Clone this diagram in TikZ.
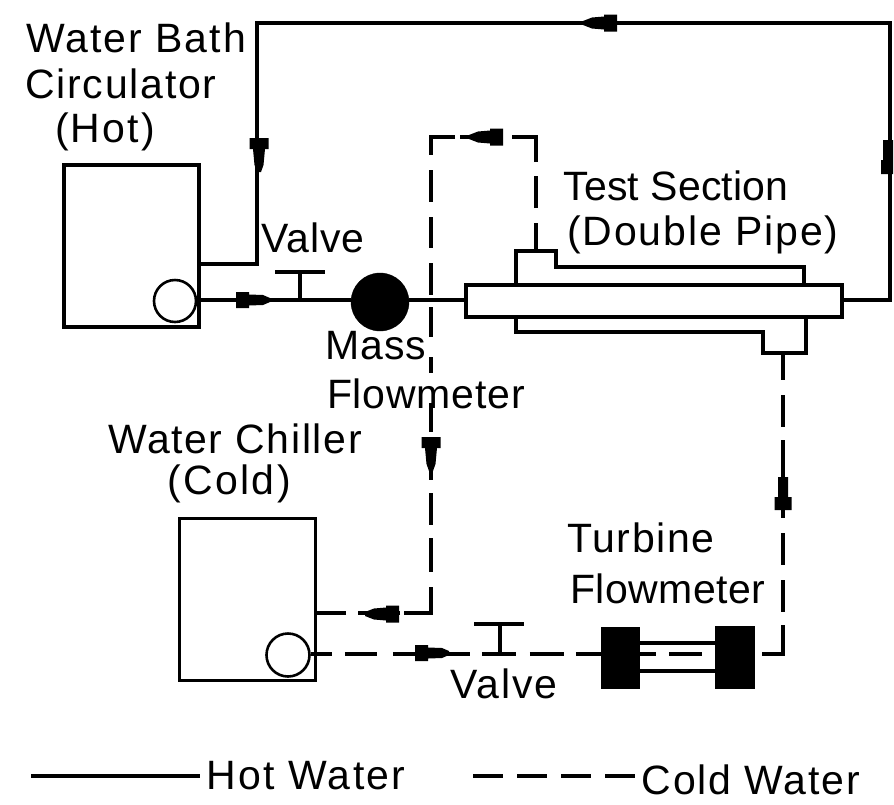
\documentclass[tikz,border=0pt]{standalone}
\usepackage{fontspec}
\setmainfont{Liberation Sans}
\usetikzlibrary{calc}
\tikzset{
  x=1pt,y=-1pt,
  pipe/.style={line width=3.4pt,line join=miter,black},
  lbl/.style={inner sep=0pt,align=center,font=\fontsize{41}{49}\selectfont,text=black},
  solidm/.style={circle,fill=black,draw=black,inner sep=0pt},
  pumpc/.style={circle,draw=black,line width=2.6pt,fill=white,inner sep=0pt},
  tank/.style={rectangle,draw=black,line width=3.4pt,inner sep=0pt,fill=white},
  tblock/.style={rectangle,fill=black,inner sep=0pt},
}
\newcommand{\LS}[1]{\addfontfeature{LetterSpace=#1}}
\newcommand{\arrowL}[2]{\fill[black,shift={(#1,#2)}] (-17,-2)--(-8,-5.5)--(4,-6.5)--(4,-8.5)--(17,-8.5)--(17,8.5)--(4,8.5)--(4,6.5)--(-8,5.5)--(-17,2)--cycle;}
\newcommand{\arrowR}[2]{\fill[black,shift={(#1,#2)}] (17,-2)--(10,-5)--(-4,-5.5)--(-4,-8)--(-17,-8)--(-17,8)--(-4,8)--(-4,5.5)--(10,5)--(17,2)--cycle;}
\newcommand{\arrowD}[2]{\fill[black,shift={(#1,#2)}] (-2,17)--(-4.5,10)--(-6,-6)--(-9.5,-6)--(-9.5,-17)--(9.5,-17)--(9.5,-6)--(6,-6)--(4.5,10)--(2,17)--cycle;}
\newcommand{\arrowU}[2]{\fill[black,shift={(#1,#2)}] (-5,-17)--(-5,3)--(-7,3)--(-7,17)--(5,17)--(5,-17)--cycle;}
\newcommand{\arrowUm}[2]{\fill[black,shift={(#1,#2)}] (-5,-17)--(-5,3)--(-8.5,3)--(-8.5,16)--(8.5,16)--(8.5,3)--(5,3)--(5,-17)--cycle;}
\newcommand{\corner}[1]{\fill[black] (#1) +(-1.7,-1.7) rectangle +(1.7,1.7);}
\begin{document}
\begin{tikzpicture}
\useasboundingbox (0,0) rectangle (894,804);
% hot tank and pump
\node[tank,minimum width=135pt,minimum height=162pt] (hot) at (131.5,246) {};
\node[pumpc,minimum size=42pt] (hotpump) at (175,301) {};
\node[solidm,minimum size=58pt] (mass) at (380,302) {};
% test section
\node[tank,minimum width=376pt,minimum height=32pt] (inner) at (654,301) {};
\coordinate (jt1) at (516,285); \coordinate (jt2) at (516,251); \coordinate (jt3) at (556,251);
\coordinate (jt4) at (556,267); \coordinate (jt5) at (804,267); \coordinate (jt6) at (804,285);
\coordinate (jb1) at (516,317); \coordinate (jb2) at (516,332); \coordinate (jb3) at (763,332);
\coordinate (jb4) at (763,353); \coordinate (jb5) at (806,353); \coordinate (jb6) at (806,317);
\draw[pipe] (jt1)--(jt2)--(jt3)--(jt4)--(jt5)--(jt6);
\draw[pipe] (jb1)--(jb2)--(jb3)--(jb4)--(jb5)--(jb6);
% hot loop
\coordinate (h0) at (216,300);
\coordinate (h1) at (257,264); \coordinate (h2) at (257,23); \coordinate (h3) at (890,23); \coordinate (h4) at (890,300);
\draw[pipe] (inner.east |- h4)--(h4)--(h3)--(h2)--(h1)--(hot.east |- h1);
\draw[pipe] (hotpump.east |- h0)--(mass.west |- h0);
\draw[pipe] (mass.east |- h0)--(inner.west |- h0);
\coordinate (v1) at (300,300); \coordinate (v1t) at (300,272);
\coordinate (v1a) at (275,272); \coordinate (v1b) at (325,272);
\draw[pipe] (v1)--(v1t); \draw[pipe] (v1a)--(v1b);
% chiller
\node[tank,minimum width=136pt,minimum height=162pt] (chill) at (247.5,599.5) {};
\node[pumpc,minimum size=43pt] (chillpump) at (288,655) {};
% cold lines
\coordinate (c1) at (536,251); \coordinate (c2) at (536,137); \coordinate (c3) at (431,137); \coordinate (c4) at (431,613);
\draw[pipe,dash pattern=on 28pt off 15pt on 32pt off 14pt on 25pt off 100pt] (c1)--(c2);
\draw[pipe,dash pattern=on 24pt off 10pt on 42pt off 5pt on 30pt off 100pt] (c2)--(c3);
\draw[pipe,dash pattern=on 18pt off 15pt on 32pt off 15pt on 31pt off 15pt on 32pt off 12pt on 30pt off 20pt on 16pt off 30pt on 29pt off 5pt on 43pt off 13pt on 32pt off 13pt on 34pt off 15pt on 30pt off 100pt] (c3)--(c4);
\draw[pipe,dash pattern=on 27pt off 4pt on 42pt off 12pt on 40pt off 100pt] (c4)--(chill.east |- c4);
\corner{c2} \corner{c3} \corner{c4}
\coordinate (c5) at (783,353); \coordinate (c6) at (783,654);
\node[tblock,minimum width=39pt,minimum height=62pt] (t1) at (620.5,658) {};
\node[tblock,minimum width=40pt,minimum height=63pt] (t2) at (735,657.5) {};
\draw[pipe,dash pattern=on 27pt off 15pt on 32pt off 13pt on 78pt off 15pt on 32pt off 15pt on 32pt off 13pt on 32pt off 100pt] (c5)--(c6);
\draw[pipe,dash pattern=on 21pt off 10pt on 30pt off 100pt] (c6)--(t2.east |- c6);
\corner{c6}
\draw[pipe,dash pattern=on 21pt off 13pt on 32pt off 16pt on 77pt off 12pt on 34pt off 14pt on 34pt off 12pt on 30pt off 100pt] (chillpump.east |- c6)--(t1.west |- c6);
\coordinate (p1) at (650,643); \coordinate (p2) at (650,671);
\draw[pipe] (t1.east |- p1)--(t2.west |- p1);
\draw[pipe] (t1.east |- p2)--(t2.west |- p2);
\draw[pipe,dash pattern=on 16pt off 13pt on 33pt off 100pt] (t1.east |- c6)--(t2.west |- c6);
\coordinate (v2) at (500,654); \coordinate (v2t) at (500,624);
\coordinate (v2a) at (474,624); \coordinate (v2b) at (524,624);
\draw[pipe] (v2)--(v2t); \draw[pipe] (v2a)--(v2b);
% arrows
\arrowL{600}{23}
\arrowD{259}{155}
\arrowU{888}{157}
\arrowR{253}{300}
\arrowL{486}{137}
\arrowD{431}{454}
\arrowUm{783}{494}
\arrowL{382}{614}
\arrowR{432}{653}
% labels
\node[lbl] (t_a) at (136,38) {\LS{5}Water Bath};
\node[lbl] (t_b) at (121,84) {\LS{4.3}Circulator};
\node[lbl] (t_c) at (105,132) {\LS{5.4}(Hot)};
\node[lbl] (t_d) at (313,238) {\LS{2.4}Valve};
\node[lbl] (t_e) at (376,346) {\LS{2.4}Mass};
\node[lbl] (t_f) at (426,394) {\LS{2}Flowmeter};
\node[lbl] (t_g) at (235,439) {\LS{4}Water Chiller};
\node[lbl] (t_h) at (229,484) {\LS{6}(Cold)};
\node[lbl] (t_i) at (676,186) {\LS{0.5}Test Section};
\node[lbl] (t_j) at (703,235) {\LS{4.6}(Double Pipe)};
\node[lbl] (t_k) at (641,538) {\LS{3.9}Turbine};
\node[lbl] (t_l) at (668,589) {\LS{1.2}Flowmeter};
\node[lbl] (t_m) at (504,684) {\LS{4.9}Valve};
% legend
\coordinate (l1) at (31,776); \coordinate (l2) at (200,776);
\draw[pipe] (l1)--(l2);
\node[lbl] (t_n) at (306,776) {\LS{5.6}Hot Water};
\coordinate (l3) at (473,776); \coordinate (l4) at (639,776);
\draw[pipe,dash pattern=on 30pt off 14pt] (l3)--(l4);
\node[lbl] (t_o) at (751,780) {\LS{4.6}Cold Water};
\end{tikzpicture}
\end{document}
